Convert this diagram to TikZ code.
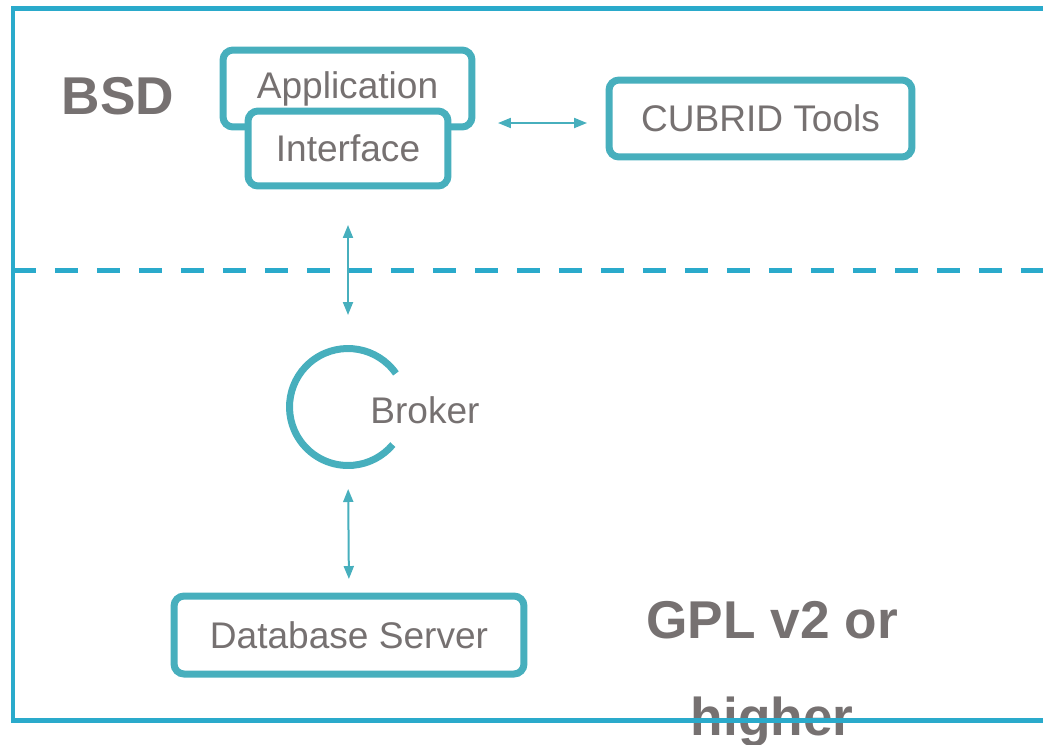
\documentclass[tikz,border=0pt]{standalone}
\usepackage{fontspec}
\setmainfont{Liberation Sans}
\usepackage{tikz}
\usetikzlibrary{arrows.meta}
\definecolor{framecol}{HTML}{2AAACB}
\definecolor{boxcol}{HTML}{47AFBD}
\definecolor{textcol}{HTML}{767171}
\tikzset{
  part/.style={draw=boxcol, line width=0.14cm, rounded corners=0.2cm, fill=white,
    text=textcol, font=\fontsize{21.1}{25}\selectfont},
  link/.style={draw=boxcol, line width=0.04cm,
    {Triangle[length=0.26cm,width=0.2cm]}-{Triangle[length=0.26cm,width=0.2cm]}},
  licence/.style={text=textcol, font=\bfseries\fontsize{30.3}{55}\selectfont, align=center}
}

\begin{document}
\begin{tikzpicture}[x=0.02cm, y=-0.02cm]
\useasboundingbox (0,0) rectangle (1043,744);

% Licence labels
\node[licence] (bsd) at (118,96) {BSD};
\node[licence, anchor=base] (gpl) at (772,735) {GPL v2 or\\higher};

% Top part
\node[part, minimum width=4.98cm, minimum height=1.54cm] (app) at (347.5,88.5) {Application};
\node[part, minimum width=4cm, minimum height=1.5cm] (iface) at (348,148.5) {Interface};
\node[part, minimum width=6.06cm, minimum height=1.54cm] (tools) at (760.5,118.5) {CUBRID Tools};

% Broker ring
\node[circle, line width=0.14cm, minimum size=2.34cm] (ring) at (348,407) {};
\draw[boxcol, line width=0.14cm] (ring.center) ++(35:1.17cm) arc[start angle=35, end angle=320, radius=1.17cm];
\node[text=textcol, font=\fontsize{21.1}{25}\selectfont] (broker) at (425,410) {Broker};

% Bottom part
\node[part, minimum width=7cm, minimum height=1.56cm] (db) at (349,635) {Database Server};

% Connections
\draw[link, shorten <=0.45cm, shorten >=0.37cm] (app.east |- 0,123) -- (tools.west |- 0,123);
\draw[link, shorten <=0.71cm, shorten >=0.6cm] (iface.south) -- (ring.north);
\draw[link, shorten <=0.4cm, shorten >=0.27cm] (ring.south) -- (db.north);

% Frame and border between the two licences
\draw[framecol, line width=0.1cm] (1043,8) -- (13,8) -- (13,720) -- (1043,720);
\draw[framecol, line width=0.1cm, dash pattern=on 0.46cm off 0.38cm] (13,270) -- (1043,270);
\end{tikzpicture}
\end{document}
